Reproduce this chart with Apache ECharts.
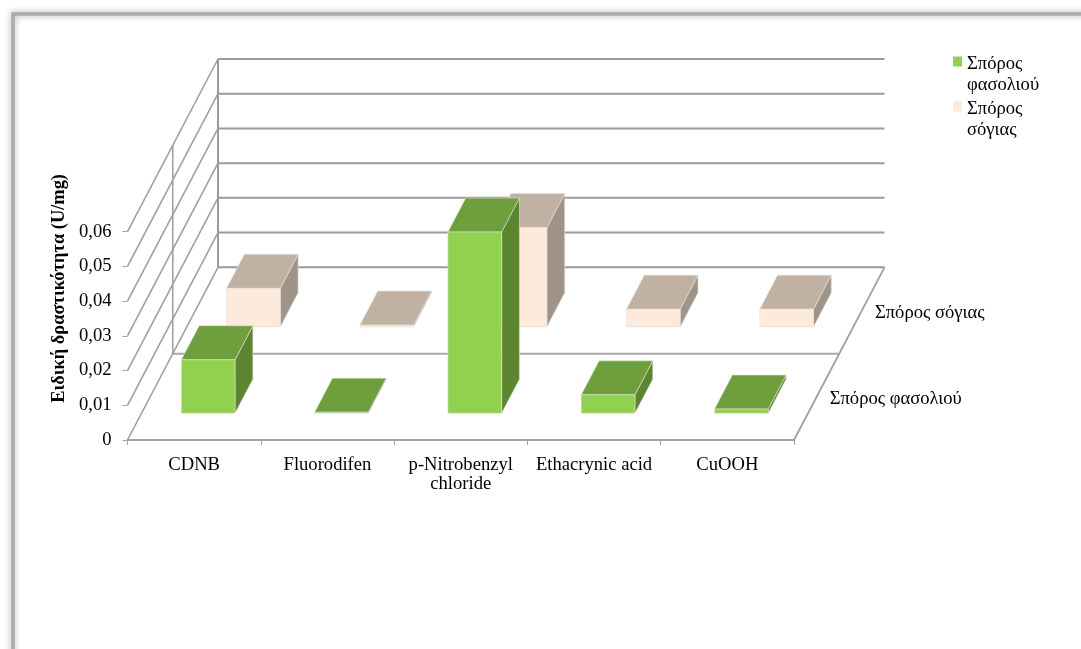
<!DOCTYPE html>
<html>
<head>
<meta charset="utf-8">
<style>html,body{margin:0;padding:0;background:#fff}#c{width:1081px;height:649px}</style>
<script src="https://cdn.jsdelivr.net/npm/echarts@6/dist/echarts.min.js"></script>
</head>
<body>
<div id="c"></div>
<script>
const categories = ['CDNB', 'Fluorodifen', 'p-Nitrobenzyl\nchloride', 'Ethacrynic acid', 'CuOOH'];
const seriesNames = ['Σπόρος φασολιού', 'Σπόρος σόγιας'];
const beanValues = [0.0154, 0.0003, 0.0522, 0.0053, 0.0012];
const soyValues = [0.0111, 0.0005, 0.0286, 0.0051, 0.0051];
const yTicks = [0, 0.01, 0.02, 0.03, 0.04, 0.05, 0.06];
const yTitle = 'Ειδική δραστικότητα (U/mg)';

const DEPTH_X = 90.5, DEPTH_Y = -172.7;
const BAR_RATIO = 0.403, BAR_DEPTH = 0.197, BAR_START = 0.155, ROW_STEP = 0.5;
const FONT = '"Liberation Serif", serif';
const FONT_SIZE = 18.6;
const WALL = '#a0a0a0';

function at(api, xUnits, val, depth) {
  const band = api.size([1, 0])[0];
  const p = api.coord([0, val]);
  return [p[0] - band / 2 + xUnits * band + depth * DEPTH_X, p[1] + depth * DEPTH_Y];
}
function line(a, b, width, color) {
  return { type: 'line', shape: { x1: a[0], y1: a[1], x2: b[0], y2: b[1] },
    style: { stroke: color || WALL, lineWidth: width } };
}
function poly(points, fill) {
  return { type: 'polygon', shape: { points }, style: { fill, stroke: 'rgba(225,225,225,0.75)', lineWidth: 0.8 } };
}

function renderWalls(params, api) {
  const v = api.value(1), n = categories.length, top = yTicks[yTicks.length - 1];
  const kids = [
    line(at(api, 0, v, 0), at(api, 0, v, 1), 1.6),
    line(at(api, 0, v, 1), at(api, n, v, 1), 2, '#9a9a9a')
  ];
  if (v === 0) {
    kids.push(line(at(api, 0, 0, 0.5), at(api, n, 0, 0.5), 2, '#a8a8a8'));
    kids.push(line(at(api, n, 0, 0), at(api, n, 0, 1), 1.8));
    kids.push(line(at(api, 0, 0, 0.5), at(api, 0, top, 0.5), 1.6));
    kids.push(line(at(api, 0, 0, 1), at(api, 0, top, 1), 2, '#9a9a9a'));
  }
  return { type: 'group', children: kids };
}

function renderBar(row, front, topFace, side) {
  return function (params, api) {
    const i = api.value(0), v = api.value(1);
    const l = i + 0.5 - BAR_RATIO / 2, r = i + 0.5 + BAR_RATIO / 2;
    const d0 = BAR_START + row * ROW_STEP, d1 = d0 + BAR_DEPTH;
    return { type: 'group', children: [
      poly([at(api, r, 0, d0), at(api, r, 0, d1), at(api, r, v, d1), at(api, r, v, d0)], side),
      poly([at(api, l, v, d0), at(api, r, v, d0), at(api, r, v, d1), at(api, l, v, d1)], topFace),
      poly([at(api, l, 0, d0), at(api, r, 0, d0), at(api, r, v, d0), at(api, l, v, d0)], front)
    ] };
  };
}

function renderDepthLabel(params, api) {
  const p = at(api, categories.length, 0, 0.25 + params.dataIndex * ROW_STEP);
  return { type: 'text', style: { x: p[0] + 13, y: p[1] + 2.5, text: seriesNames[params.dataIndex],
    font: FONT_SIZE + 'px ' + FONT, fill: '#000', textAlign: 'left', textVerticalAlign: 'middle' } };
}

const chart = echarts.init(document.getElementById('c'), null, { renderer: 'canvas' });
chart.setOption({
  animation: false,
  backgroundColor: '#fff',
  textStyle: { fontFamily: FONT },
  grid: { left: 127.5, right: 287, top: 231.7, bottom: 209 },
  xAxis: {
    type: 'category', data: categories, boundaryGap: true,
    axisLine: { lineStyle: { color: '#a3a3a3', width: 2 } },
    axisTick: { show: true, length: 5, lineStyle: { color: '#a3a3a3', width: 1 } },
    axisLabel: { color: '#000', fontSize: FONT_SIZE, fontFamily: FONT, lineHeight: 19, margin: 16, interval: 0 }
  },
  yAxis: {
    type: 'value', min: 0, max: 0.06, interval: 0.01,
    name: yTitle, nameLocation: 'middle', nameGap: 56, nameRotate: 90,
    nameTextStyle: { color: '#000', fontSize: 18.4, fontWeight: 'bold', fontFamily: FONT, padding: [0, 0, 0, 95] },
    splitLine: { show: false },
    axisLine: { show: false },
    axisTick: { show: true, length: 5, lineStyle: { color: '#a3a3a3', width: 1 } },
    axisLabel: { color: '#000', fontSize: FONT_SIZE, fontFamily: FONT, margin: 16, padding: [2, 0, 0, 0],
      formatter: v => String(+v.toFixed(2)).replace('.', ',') }
  },
  legend: {
    left: 948, top: 48.5, orient: 'vertical', data: seriesNames, selectedMode: false,
    itemWidth: 9, itemHeight: 36, itemGap: 3,
    icon: 'path://M0 0H9V10H0Z M0 36L0.01 36',
    formatter: n => n.replace(' ', '\n'),
    textStyle: { color: '#000', fontSize: FONT_SIZE, fontFamily: FONT, lineHeight: 21 }
  },
  graphic: [{
    type: 'rect', z: -1, silent: true,
    shape: { x: 13, y: 14, width: 1300, height: 900 },
    style: { fill: 'none', stroke: '#ababab', lineWidth: 3.5, shadowBlur: 6, shadowColor: 'rgba(0,0,0,0.35)' }
  }],
  series: [
    { type: 'custom', name: 'walls', z: 1, silent: true, coordinateSystem: 'cartesian2d',
      data: yTicks.map(v => [0, v]), encode: { x: 0, y: 1 }, renderItem: renderWalls },
    { type: 'custom', name: seriesNames[1], z: 2, silent: true, itemStyle: { color: '#FDEADA' },
      data: soyValues.map((v, i) => [i, v]), encode: { x: 0, y: 1 },
      renderItem: renderBar(1, '#FDEADA', '#C0B1A3', '#A09489') },
    { type: 'custom', name: seriesNames[0], z: 3, silent: true, itemStyle: { color: '#92D050' },
      data: beanValues.map((v, i) => [i, v]), encode: { x: 0, y: 1 },
      renderItem: renderBar(0, '#92D050', '#6F9F3D', '#5C8530') },
    { type: 'custom', name: 'depth', z: 4, silent: true,
      data: seriesNames.map(() => [0, 0]), encode: { x: 0, y: 1 }, renderItem: renderDepthLabel }
  ]
});
</script>
</body>
</html>
